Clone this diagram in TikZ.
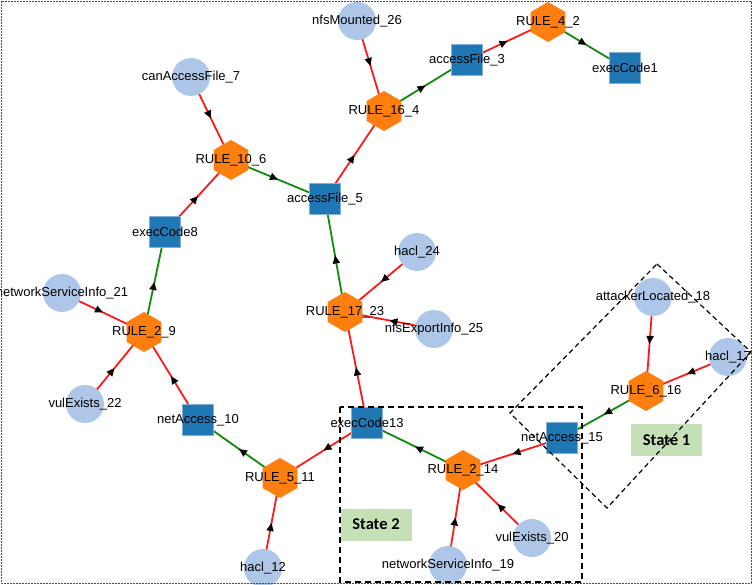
\documentclass[tikz,border=0pt]{standalone}
\usepackage{fontspec}
\setmainfont{Liberation Sans}
\newfontfamily\stfont{Carlito}
\usetikzlibrary{shapes.geometric,arrows.meta,decorations.markings,backgrounds}
\pgfdeclarelayer{bottomlayer}
\pgfsetlayers{bottomlayer,background,main}
\definecolor{cblue}{HTML}{AEC7E8}
\definecolor{sblue}{HTML}{1F77B4}
\definecolor{horange}{HTML}{FF7F0E}
\definecolor{ered}{HTML}{FF1A1A}
\definecolor{egreen}{HTML}{118A11}
\definecolor{stgreen}{HTML}{C5E0B4}
\tikzset{
  lab/.style={font=\fontsize{13}{13}\selectfont, text=black, inner sep=0pt},
  cnode/.style={circle, fill=cblue, minimum size=38pt, inner sep=0pt},
  snode/.style={rectangle, fill=sblue, draw=cblue!70!sblue, line width=0.5pt, minimum size=31pt, inner sep=0pt},
  hnode/.style={regular polygon, regular polygon sides=6, shape border rotate=30, fill=horange, minimum size=40pt, inner sep=0pt},
  midarrow/.style={postaction={decorate}, decoration={markings, mark=at position 0.5 with {\arrow[black]{Triangle[length=8pt,width=7pt]}}}},
  redge/.style={draw=ered, line width=1.8pt, midarrow},
  gedge/.style={draw=egreen, line width=1.8pt, midarrow},
  statebox/.style={fill=stgreen, minimum width=71pt, minimum height=32pt, inner sep=0pt, font=\stfont\bfseries\fontsize{16.5}{16.5}\selectfont},
  groupbox/.style={draw=black, dash pattern=on 6pt off 4pt, line width=1.8pt},
  groupdiag/.style={draw=black, dash pattern=on 5pt off 3.5pt, line width=1.2pt},
}
\begin{document}
\begin{tikzpicture}[x=1pt,y=-1pt]
\useasboundingbox (0,0) rectangle (753,585);
\begin{pgfonlayer}{bottomlayer}
\fill[white] (0,0) rectangle (753,585);
\end{pgfonlayer}
% circles
\node[cnode, label={[lab]center:nfsMounted\_26}] (n26) at (357,21) {};
\node[cnode, label={[lab]center:canAccessFile\_7}] (n7) at (191,77) {};
\node[cnode, label={[lab]center:networkServiceInfo\_21}] (n21) at (62,293) {};
\node[cnode, label={[lab]center:vulExists\_22}] (n22) at (85,404) {};
\node[cnode, label={[lab]center:hacl\_12}] (n12) at (263,568) {};
\node[cnode, label={[lab]center:hacl\_24}] (n24) at (417,252) {};
\node[cnode, label={[lab]center:nfsExportInfo\_25}] (n25) at (434,329) {};
\node[cnode, label={[lab]center:attackerLocated\_18}] (n18) at (653,297) {};
\node[cnode, label={[lab]center:hacl\_17}] (n17) at (728,357) {};
\node[cnode, label={[lab]center:vulExists\_20}] (n20) at (532,538) {};
\node[cnode, label={[lab]center:networkServiceInfo\_19}] (n19) at (448,565) {};
% squares
\node[snode, label={[lab]center:accessFile\_3}] (n3) at (467,60) {};
\node[snode, label={[lab]center:execCode1}] (n1) at (625,68) {};
\node[snode, label={[lab]center:accessFile\_5}] (n5) at (325,199) {};
\node[snode, label={[lab]center:execCode8}] (n8) at (165,232) {};
\node[snode, label={[lab]center:netAccess\_10}] (n10) at (198,420) {};
\node[snode, label={[lab]center:execCode13}] (n13) at (367,423) {};
\node[snode, label={[lab]center:netAccess\_15}] (n15) at (562,438) {};
% hexagons
\node[hnode, label={[lab]center:RULE\_4\_2}] (n2) at (548,22) {};
\node[hnode, label={[lab]center:RULE\_16\_4}] (n4) at (384,111) {};
\node[hnode, label={[lab]center:RULE\_10\_6}] (n6) at (231,160) {};
\node[hnode, label={[lab]center:RULE\_2\_9}] (n9) at (144,332) {};
\node[hnode, label={[lab]center:RULE\_5\_11}] (n11) at (280,478) {};
\node[hnode, label={[lab]center:RULE\_17\_23}] (n23) at (345,312) {};
\node[hnode, label={[lab]center:RULE\_2\_14}] (n14) at (463,470) {};
\node[hnode, label={[lab]center:RULE\_6\_16}] (n16) at (646,391) {};
% edges
\begin{scope}[on background layer]
\draw[redge] (n26.center) -- (n4.center);
\draw[gedge] (n4.center) -- (n3.center);
\draw[redge] (n3.center) -- (n2.center);
\draw[gedge] (n2.center) -- (n1.center);
\draw[redge] (n5.center) -- (n4.center);
\draw[redge] (n7.center) -- (n6.center);
\draw[gedge] (n6.center) -- (n5.center);
\draw[redge] (n8.center) -- (n6.center);
\draw[gedge] (n9.center) -- (n8.center);
\draw[redge] (n21.center) -- (n9.center);
\draw[redge] (n22.center) -- (n9.center);
\draw[redge] (n10.center) -- (n9.center);
\draw[gedge] (n11.center) -- (n10.center);
\draw[redge] (n12.center) -- (n11.center);
\draw[redge] (n13.center) -- (n11.center);
\draw[gedge] (n23.center) -- (n5.center);
\draw[redge] (n24.center) -- (n23.center);
\draw[redge] (n25.center) -- (n23.center);
\draw[redge] (n13.center) -- (n23.center);
\draw[gedge] (n14.center) -- (n13.center);
\draw[redge] (n15.center) -- (n14.center);
\draw[redge] (n19.center) -- (n14.center);
\draw[redge] (n20.center) -- (n14.center);
\draw[gedge] (n16.center) -- (n15.center);
\draw[redge] (n18.center) -- (n16.center);
\draw[redge] (n17.center) -- (n16.center);
\end{scope}
% state groups
\node[statebox] (st1) at (666.5,440) {State 1};
\node[statebox] (st2) at (376,524.5) {State 2};
\draw[groupbox] (340,407) rectangle (582,582);
\draw[groupdiag] (657,264) -- (751,352) -- (607,508) -- (510,413) -- cycle;
% outer frame
\draw[black!70, line width=0.6pt, dash pattern=on 2pt off 1pt] (1,1) rectangle (751,583);
\end{tikzpicture}
\end{document}
